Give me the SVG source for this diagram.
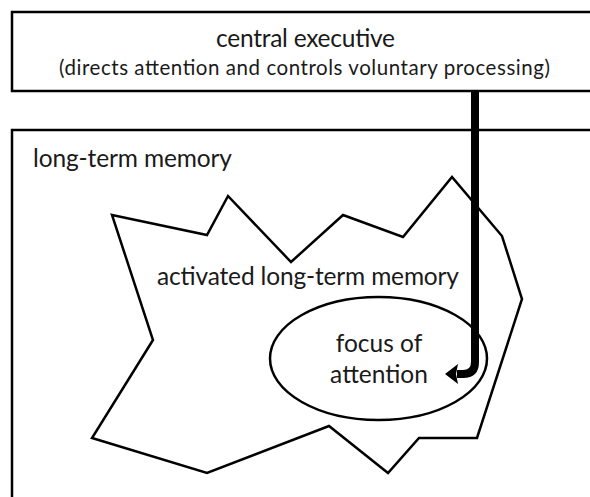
<svg xmlns="http://www.w3.org/2000/svg" width="590" height="497" viewBox="0 0 590 497">
  <defs>
    <style>
      .box { fill: #ffffff; stroke: #000000; stroke-width: 2.5; }
      .shape { fill: #ffffff; stroke: #000000; stroke-width: 2.5; stroke-linejoin: miter; }
      .big { font-family: Lato, "Liberation Sans", sans-serif; font-size: 24.5px; fill: #1a1a1a; }
      .small { font-family: Lato, "Liberation Sans", sans-serif; font-size: 20.5px; fill: #1a1a1a; }
      .conn { fill: none; stroke: #000000; stroke-width: 8; }
    </style>
  </defs>
  <rect width="590" height="497" fill="#ffffff"/>

  <g id="long-term-memory">
    <rect class="box" x="12" y="130" width="600" height="400"/>
    <text class="big" x="33" y="167" textLength="199">long-term memory</text>
  </g>

  <g id="activated-long-term-memory">
    <polygon class="shape" points="112,215 207,235 228,196 291,262 343,215 403,237 452,177 502,236 522,299 477,438 419,438 388,473 329,426 207,473 92,438 153,340"/>
    <text class="big" x="157" y="285" textLength="302">activated long-term memory</text>
  </g>

  <g id="focus-of-attention">
    <ellipse class="shape" cx="378.5" cy="358.5" rx="108.5" ry="61.5"/>
    <text class="big" x="379" y="352" text-anchor="middle">focus of</text>
    <text class="big" x="379" y="383" text-anchor="middle">attention</text>
  </g>

  <g id="central-executive">
    <rect class="box" x="12" y="12" width="600" height="79"/>
    <text class="big" x="216" y="47" textLength="179">central executive</text>
    <text class="small" x="59" y="75" textLength="491">(directs attention and controls voluntary processing)</text>
  </g>

  <g id="connectors">
    <path class="conn" d="M475,91 V362 Q475,374 463,374 H457"/>
    <polygon points="445,374 458,364 456,374 458,384" fill="#000000"/>
  </g>
</svg>
